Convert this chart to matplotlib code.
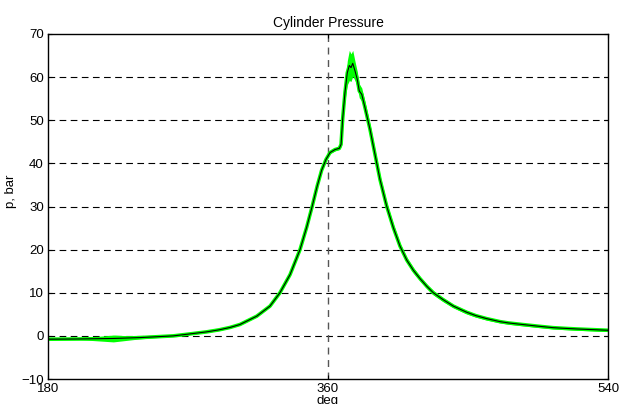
import matplotlib
matplotlib.use("Agg")
import matplotlib.pyplot as plt

# crank angle (deg) and mean cylinder pressure (bar)
crank_deg = [180, 200, 222, 239, 250, 260.6, 270, 282, 290, 297, 303.4,
             314.2, 322.7, 329.1, 335.6, 342.0, 346.3, 349.8, 353.1, 355.9,
             358.7, 361.3, 364.5, 367.3, 368.4, 369.4, 370.9, 372.4, 373.7,
             374.8, 375.9, 377.4, 378.8, 380.1, 381.7, 383.8, 387.0, 390.2,
             393.4, 397.7, 402.0, 406.3, 410.6, 414.9, 419.1, 423.5, 427.7,
             434, 440.6, 449, 455, 462, 470.6, 476, 483.4, 495, 504.8, 512,
             520, 530, 540]
p_mean = [-0.77, -0.72, -0.6, -0.4, -0.2, 0.0, 0.4, 0.93, 1.4, 1.95, 2.64,
          4.57, 6.9, 10.0, 14.2, 20.0, 25.2, 30.0, 34.8, 38.4,
          40.9, 42.5, 43.2, 43.5, 44.4, 50.2, 56.4, 61.0, 62.7,
          62.2, 63.2, 61.4, 59.5, 56.8, 56.0, 52.9, 47.9, 42.1,
          36.3, 30.1, 25.1, 20.8, 17.6, 15.2, 13.3, 11.5, 10.0,
          8.4, 6.9, 5.5, 4.7, 4.0, 3.3, 3.0, 2.7, 2.25, 1.9, 1.75,
          1.6, 1.45, 1.3]
# cycle-to-cycle spread around the mean (bar)
p_spread = [0.15, 0.15, 0.8, 0.3, 0.2, 0.15, 0.15, 0.15, 0.15, 0.15, 0.15,
            0.15, 0.15, 0.15, 0.15, 0.15, 0.15, 0.2, 0.2, 0.2,
            0.2, 0.2, 0.3, 0.3, 0.5, 1.0, 1.8, 2.8, 3.5,
            3.2, 3.0, 2.2, 1.8, 1.6, 1.5, 1.4, 1.2, 1.1,
            1.0, 0.9, 0.8, 0.7, 0.6, 0.6, 0.5, 0.5, 0.5,
            0.45, 0.4, 0.4, 0.35, 0.35, 0.3, 0.3, 0.3, 0.3, 0.3, 0.3,
            0.3, 0.3, 0.3]

x_ticks = [180, 360, 540]
y_ticks = list(range(-10, 80, 10))

plt.rcParams["font.family"] = ["Liberation Sans", "DejaVu Sans"]
plt.rcParams["font.size"] = 9

fig = plt.figure(figsize=(6.27, 4.04), dpi=100)
ax = fig.add_axes([48 / 627, 1 - 379 / 404, 560 / 627, 345 / 404])

lower = [p - s for p, s in zip(p_mean, p_spread)]
upper = [p + s for p, s in zip(p_mean, p_spread)]
ax.fill_between(crank_deg, lower, upper, color="#00ff00", lw=0, zorder=2)
ax.plot(crank_deg, p_mean, color="#00ff00", lw=2.6, zorder=2,
        solid_capstyle="butt", solid_joinstyle="round")
ax.plot(crank_deg, p_mean, color="black", lw=0.8, zorder=3,
        solid_joinstyle="round")

# dashed reference lines: every 10 bar and TDC
for y in y_ticks[1:-1]:
    ax.axhline(y, color="black", lw=0.8, ls=(0, (6, 4)), zorder=1)
ax.axvline(360, color="#555555", lw=1.0, ls=(0, (5, 4)), zorder=1)

ax.set_xlim(180, 540)
ax.set_ylim(-10, 70)
ax.set_xticks(x_ticks)
ax.set_yticks(y_ticks)
ax.tick_params(direction="in", length=3, width=0.8, top=True, right=True,
               pad=3, labelsize=9.5)
for s in ax.spines.values():
    s.set_linewidth(1.0)

ax.set_title("Cylinder Pressure", fontsize=10, pad=5)
ax.set_xlabel("deg", labelpad=0, fontsize=9.5)
ax.set_ylabel("p, bar", fontsize=9.5)
ax.yaxis.set_label_coords(-0.055, 0.545)

fig.savefig("out.png", dpi=100)
